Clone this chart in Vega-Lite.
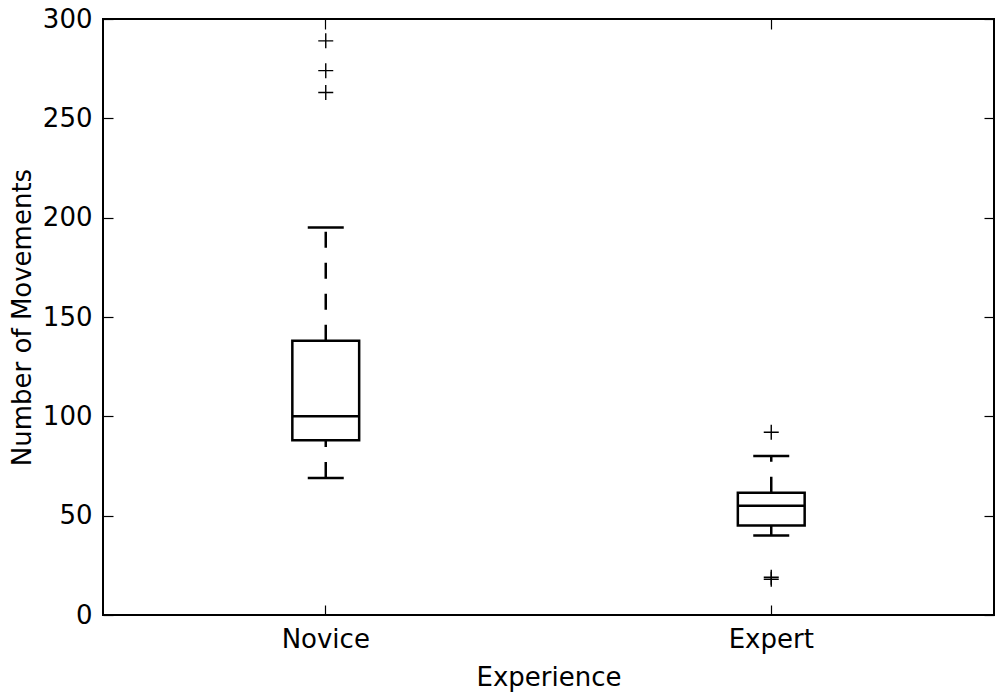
{
  "$schema": "https://vega.github.io/schema/vega-lite/v6.json",
  "width": 891,
  "height": 596,
  "autosize": "none",
  "padding": {"left": 103, "top": 19, "right": 2, "bottom": 77},
  "background": "white",
  "config": {
    "view": {"stroke": "black", "strokeWidth": 2},
    "font": "DejaVu Sans",
    "axis": {
      "labelFont": "DejaVu Sans",
      "labelFontSize": 26,
      "labelColor": "black",
      "titleFont": "DejaVu Sans",
      "titleFontSize": 26,
      "titleFontWeight": "normal",
      "titleColor": "black",
      "domain": false,
      "grid": false,
      "tickColor": "black",
      "tickWidth": 1.2,
      "tickSize": -10,
      "labelPadding": 21
    }
  },
  "datasets": {
    "boxes": [
      {"cat": "Novice", "lo": 69, "q1": 88, "med": 100, "q3": 138, "hi": 195},
      {"cat": "Expert", "lo": 40, "q1": 45, "med": 55, "q3": 61.5, "hi": 80}
    ],
    "outliers": [
      {"cat": "Novice", "v": 289},
      {"cat": "Novice", "v": 274},
      {"cat": "Novice", "v": 263},
      {"cat": "Expert", "v": 92},
      {"cat": "Expert", "v": 19},
      {"cat": "Expert", "v": 18}
    ]
  },
  "layer": [
    {
      "data": {"name": "boxes"},
      "mark": {"type": "rule", "strokeWidth": 2.5, "strokeDash": [16, 15], "color": "black"},
      "encoding": {
        "x": {"field": "cat", "type": "nominal", "sort": ["Novice", "Expert"],
              "scale": {"domain": ["Novice", "Expert"], "paddingInner": 0, "paddingOuter": 0},
              "axis": {"orient": "bottom", "title": "Experience", "labelAngle": 0, "titlePadding": 12}},
        "y": {"field": "lo", "type": "quantitative",
              "scale": {"domain": [0, 300], "nice": false, "zero": false},
              "axis": {"orient": "left", "title": "Number of Movements", "values": [0, 50, 100, 150, 200, 250, 300], "titlePadding": 7}},
        "y2": {"field": "q1"}
      }
    },
    {
      "data": {"name": "boxes"},
      "mark": {"type": "rule", "strokeWidth": 2.5, "strokeDash": [16, 15], "color": "black"},
      "encoding": {
        "x": {"field": "cat", "type": "nominal", "sort": ["Novice", "Expert"], "axis": null},
        "y": {"field": "q3", "type": "quantitative", "axis": null},
        "y2": {"field": "hi"}
      }
    },
    {
      "data": {"name": "boxes"},
      "mark": {"type": "bar", "fill": "white", "fillOpacity": 0, "stroke": "black", "strokeWidth": 2.5, "width": {"band": 0.15}},
      "encoding": {
        "x": {"field": "cat", "type": "nominal", "sort": ["Novice", "Expert"], "axis": null},
        "y": {"field": "q1", "type": "quantitative", "axis": null},
        "y2": {"field": "q3"}
      }
    },
    {
      "data": {"name": "boxes"},
      "mark": {"type": "tick", "color": "black", "size": 67, "thickness": 2.5, "opacity": 1},
      "encoding": {
        "x": {"field": "cat", "type": "nominal", "sort": ["Novice", "Expert"], "axis": null},
        "y": {"field": "med", "type": "quantitative", "axis": null}
      }
    },
    {
      "data": {"name": "boxes"},
      "mark": {"type": "tick", "color": "black", "size": 36, "thickness": 2.5, "opacity": 1},
      "encoding": {
        "x": {"field": "cat", "type": "nominal", "sort": ["Novice", "Expert"], "axis": null},
        "y": {"field": "lo", "type": "quantitative", "axis": null}
      }
    },
    {
      "data": {"name": "boxes"},
      "mark": {"type": "tick", "color": "black", "size": 36, "thickness": 2.5, "opacity": 1},
      "encoding": {
        "x": {"field": "cat", "type": "nominal", "sort": ["Novice", "Expert"], "axis": null},
        "y": {"field": "hi", "type": "quantitative", "axis": null}
      }
    },
    {
      "data": {"name": "outliers"},
      "mark": {"type": "point", "shape": "M-1,0H1M0,-1V1", "filled": false, "stroke": "black", "strokeWidth": 1.4, "size": 225, "opacity": 1},
      "encoding": {
        "x": {"field": "cat", "type": "nominal", "sort": ["Novice", "Expert"],
              "axis": {"orient": "top", "labels": false, "title": null}},
        "y": {"field": "v", "type": "quantitative",
              "axis": {"orient": "right", "labels": false, "title": null, "values": [0, 50, 100, 150, 200, 250, 300]}}
      }
    }
  ],
  "resolve": {"axis": {"x": "independent", "y": "independent"}}
}
